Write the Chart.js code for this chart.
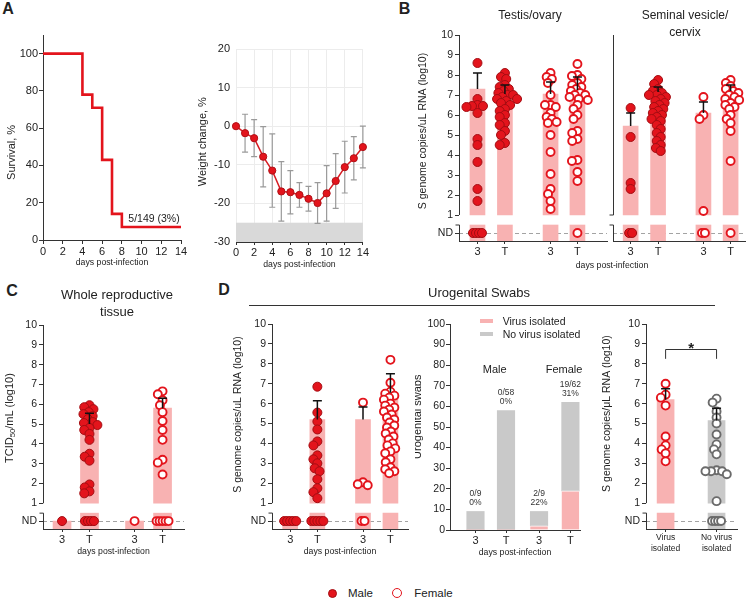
<!DOCTYPE html>
<html>
<head>
<meta charset="utf-8">
<script src="https://cdn.jsdelivr.net/npm/chart.js@4.4.1/dist/chart.umd.min.js"></script>
<style>
  html, body { margin: 0; padding: 0; background: #fff; }
  body { position: relative; width: 750px; height: 599px; overflow: hidden; font-family: 'Liberation Sans', Arial, sans-serif; color: #222; }
  canvas { position: absolute; }
  .lbl { position: absolute; transform: translate(-50%, -50%); white-space: nowrap; line-height: 1; }
  .left { transform: translate(0, -50%); }
  .bold { font-weight: bold; }
</style>
</head>
<body>
<script>
const FONT = "'Liberation Sans', Arial, sans-serif";
Chart.defaults.font.family = FONT;
Chart.defaults.font.size = 10.5;
Chart.defaults.color = '#222';

// ---- A: survival and weight ----
const survDays = [0, 4, 5, 6, 7, 8, 14];
const survPct = [100, 78, 71, 43, 14, 7, 7];
const survTicks = [0, 20, 40, 60, 80, 100];
const weightDays = [0, 1, 2, 3, 4, 5, 6, 7, 8, 9, 10, 11, 12, 13, 14];
const weightMean = [0, -1.8, -3.1, -7.9, -11.5, -16.9, -17.1, -17.8, -18.8, -19.9, -17.4, -14.2, -10.6, -8.3, -5.4];
const weightSd = [0, 4.9, 4.8, 7.8, 9.5, 7.7, 5.6, 3.2, 3.2, 5.3, 7.2, 7.1, 6.7, 5.6, 5.4];

// groups used by B, C and D (day 3 / terminal, male then female)
const dayLabels = ['3', 'T', '3', 'T'];
const sexKinds = ['M', 'M', 'F', 'F'];

// ---- B: testis/ovary ----
const testisVals = [
  [8.6, 6.8, 6.5, 6.45, 6.45, 6.4, 6.1, 4.8, 4.5, 3.65, 2.3, 1.7],
  [8.1, 7.9, 7.8, 7.5, 7.4, 7.3, 7.2, 7.1, 7.0, 7.0, 6.9, 6.8, 6.8, 6.7, 6.6, 6.5, 6.3, 6.2, 6.0, 5.9, 5.6, 5.5, 5.2, 5.0, 4.6, 4.5],
  [8.1, 7.9, 7.8, 7.6, 7.0, 6.5, 6.5, 6.4, 6.1, 5.9, 5.8, 5.65, 5.6, 5.0, 4.15, 3.05, 2.3, 2.05, 1.7, 1.3],
  [8.55, 8.0, 7.95, 7.8, 7.6, 7.5, 7.4, 7.3, 7.2, 7.1, 7.0, 7.0, 6.9, 6.8, 6.75, 6.5, 6.3, 6.0, 5.8, 5.2, 5.1, 4.8, 4.7, 3.75, 3.7, 3.15, 2.7]
];
const testisND = [4, 0, 0, 1];
const testisMean = [7.3, 7.05, 7.05, 7.25];
const testisSem = [0.8, 0.45, 0.6, 0.65];

// ---- B: seminal vesicle/cervix ----
const seminalVals = [
  [6.35, 4.9, 2.6, 2.3],
  [7.75, 7.55, 7.3, 7.2, 7.1, 7.0, 7.0, 6.9, 6.8, 6.7, 6.6, 6.5, 6.4, 6.3, 6.2, 6.1, 6.0, 5.9, 5.8, 5.7, 5.5, 5.3, 5.1, 4.9, 4.7, 4.5, 4.35, 4.2],
  [6.9, 6.0, 5.8, 1.2],
  [7.75, 7.6, 7.45, 7.3, 7.2, 7.1, 7.0, 6.9, 6.8, 6.75, 6.6, 6.5, 6.4, 6.3, 6.0, 5.8, 5.6, 5.2, 3.7]
];
const seminalND = [2, 0, 2, 1];
const seminalMean = [5.45, 7.15, 6.1, 7.2];
const seminalSem = [0.65, 0.25, 0.55, 0.3];

// ---- C: whole reproductive tissue (TCID50) ----
const tissueVals = [
  [],
  [5.95, 5.85, 5.75, 5.6, 5.5, 5.4, 5.25, 5.1, 5.05, 4.95, 4.8, 4.7, 4.5, 4.2, 3.5, 3.35, 3.15, 1.95, 1.8, 1.6, 1.5],
  [],
  [6.65, 6.5, 6.2, 5.95, 5.6, 5.15, 4.7, 4.2, 3.2, 3.05, 2.45]
];
const tissueND = [1, 4, 1, 5];
const tissueMean = [null, 5.0, null, 5.8];
const tissueSem = [0, 0.55, 0, 0.5];

// ---- D: urogenital swab RNA ----
const swabVals = [
  [],
  [6.85, 5.55, 5.1, 4.7, 4.1, 3.9, 3.4, 3.2, 3.0, 2.75, 2.6, 2.2, 1.75, 1.55, 1.25],
  [6.05, 2.05, 1.95, 1.9],
  [8.2, 7.05, 6.6, 6.5, 6.4, 6.3, 6.2, 6.0, 5.9, 5.8, 5.7, 5.6, 5.45, 5.3, 5.2, 5.05, 4.9, 4.8, 4.6, 4.5, 4.35, 4.2, 4.0, 3.9, 3.75, 3.6, 3.5, 3.2, 3.05, 2.8, 2.7, 2.6, 2.5]
];
const swabND = [5, 5, 2, 0];
const swabMean = [null, 5.2, 5.2, 6.55];
const swabSem = [0, 0.95, 0.63, 0.95];

// ---- D: virus isolation counts ----
const isoPositive = [0, 0, 2, 19];
const isoTotal = [9, 58, 9, 62];

// ---- D: RNA by isolation result ----
const isoGroupLabels = [['Virus', 'isolated'], ['No virus', 'isolated']];
const isoRnaVals = [
  [7.0, 6.45, 6.3, 5.9, 4.35, 3.9, 3.7, 3.5, 3.1],
  [6.25, 6.05, 5.6, 5.3, 5.0, 4.45, 3.95, 3.7, 3.45, 2.65, 2.6, 2.6, 2.6, 2.45, 1.1]
];
const isoRnaND = [0, 4];
const isoRnaMean = [6.2, 5.15];
const isoRnaSem = [0.55, 0.62];

// ---- styles / layout ----
const RED = '#e3141c', PINK = '#f8b2b2', GREY_BAR = '#c9c9c9', AXIS = '#333';
const UNIT = 28;                       // px per x unit in the dot-plot panels
const Y_MIN = -0.3, ND = 0.1, BREAK = 0.5;
const groupX4 = [0.65, 1.62, 3.25, 4.23];
const GAP = 5.6, ND_GAP = 3;
const markStyle = {
  M: { pointBackgroundColor: RED, pointBorderColor: '#a30d12', pointBorderWidth: 1, pointRadius: 4.5 },
  F: { pointBackgroundColor: '#fff', pointBorderColor: RED, pointBorderWidth: 1.9, pointRadius: 4 },
  G: { pointBackgroundColor: '#fff', pointBorderColor: '#6b6b6b', pointBorderWidth: 1.9, pointRadius: 4 }
};
const xTitle = { display: true, text: 'days post-infection', font: { size: 8.7 }, padding: { top: 0, bottom: 2 } };

function mkCanvas(id, [x, y, w, h]) {
  const c = document.createElement('canvas');
  c.id = id; c.width = w; c.height = h;
  c.style.left = x + 'px'; c.style.top = y + 'px';
  document.body.appendChild(c);
  return c;
}

function frame(box) {
  const [cx, cy, cw, ch] = box.canvas, [l, t, r, b] = box.plot;
  return { padding: { left: 0, top: t - cy, right: cx + cw - r, bottom: 0 }, yW: l - cx, xH: cy + ch - b, xMax: (r - l) / UNIT };
}

function baseOptions(f) {
  return {
    responsive: false, animation: false, devicePixelRatio: 1, events: [],
    layout: { padding: f.padding, autoPadding: false },
    plugins: { legend: { display: false }, tooltip: { enabled: false } }
  };
}

function txt(s, x, y, size, cls = '', extra = '') {
  const d = document.createElement('div');
  d.className = 'lbl ' + cls;
  d.textContent = s;
  d.style.cssText = `left:${x}px;top:${y}px;font-size:${size}px;${extra}`;
  document.body.appendChild(d);
}

function box(x, y, w, h, css) {
  const d = document.createElement('div');
  d.style.cssText = `position:absolute;left:${x}px;top:${y}px;width:${w}px;height:${h}px;box-sizing:border-box;${css}`;
  document.body.appendChild(d);
}

function drawErr(ctx, xs, ys, e) {
  ctx.strokeStyle = e.color; ctx.lineWidth = e.width;
  e.xs.forEach((xv, i) => {
    const m = e.means[i], s = e.errs[i];
    if (m == null || !s) return;
    const px = xs.getPixelForValue(xv);
    const top = ys.getPixelForValue(m + s);
    const bot = ys.getPixelForValue(e.both ? m - s : m);
    ctx.beginPath();
    ctx.moveTo(px, bot); ctx.lineTo(px, top);
    ctx.moveTo(px - e.cap, top); ctx.lineTo(px + e.cap, top);
    if (e.both) { ctx.moveTo(px - e.cap, bot); ctx.lineTo(px + e.cap, bot); }
    ctx.stroke();
  });
}

function drawYTitle(chart, t) {
  const { ctx, chartArea: a, scales: { y } } = chart;
  const fontFor = p => `${p.sub ? t.size * 0.7 : t.size}px ${FONT}`;
  ctx.save();
  ctx.translate(a.left - t.off, y.getPixelForValue(t.at));
  ctx.rotate(-Math.PI / 2);
  let total = 0;
  t.parts.forEach(p => { ctx.font = fontFor(p); total += ctx.measureText(p.t).width; });
  let xx = -total / 2;
  ctx.fillStyle = '#222'; ctx.textBaseline = 'middle'; ctx.textAlign = 'left';
  t.parts.forEach(p => {
    ctx.font = fontFor(p);
    ctx.fillText(p.t, xx, p.sub ? t.size * 0.3 : 0);
    xx += ctx.measureText(p.t).width;
  });
  ctx.restore();
}

function decor(o) {
  return {
    id: 'decor',
    beforeDatasetsDraw(chart) {
      const { ctx, chartArea: a, scales: { x, y } } = chart;
      ctx.save();
      if (o.band) {
        const top = y.getPixelForValue(o.band[1]), bot = y.getPixelForValue(o.band[0]);
        ctx.fillStyle = '#d9d9d9';
        ctx.fillRect(a.left, top, a.right - a.left, bot - top);
      }
      if (o.ndLine) {
        const yy = Math.round(y.getPixelForValue(ND)) + 0.5;
        ctx.strokeStyle = '#8c8c8c'; ctx.lineWidth = 0.8; ctx.setLineDash([4, 3]);
        ctx.beginPath(); ctx.moveTo(a.left, yy); ctx.lineTo(a.right, yy); ctx.stroke();
        ctx.setLineDash([]);
      }
      if (o.err && o.err.behind) drawErr(ctx, x, y, o.err);
      ctx.restore();
    },
    afterDatasetsDraw(chart) {
      const { ctx, chartArea: a, scales: { x, y } } = chart;
      ctx.save();
      if (o.err && !o.err.behind) drawErr(ctx, x, y, o.err);
      if (o.broken) {
        // y axis split between the 1..10 range and the ND strip
        const X = Math.round(a.left) + 0.5;
        const y10 = y.getPixelForValue(10), y1 = y.getPixelForValue(1), yb = y.getPixelForValue(BREAK);
        ctx.strokeStyle = AXIS; ctx.lineWidth = 1;
        ctx.beginPath();
        ctx.moveTo(X, y10); ctx.lineTo(X, y1);
        if (o.bare) ctx.lineTo(X - 4, y1);
        ctx.moveTo(X - 4, yb); ctx.lineTo(X, yb); ctx.lineTo(X, a.bottom);
        ctx.stroke();
      }
      if (o.counts) {
        const c = o.counts;
        ctx.fillStyle = '#333'; ctx.font = `8.5px ${FONT}`;
        ctx.textAlign = 'center'; ctx.textBaseline = 'middle';
        c.xs.forEach((xv, i) => {
          const px = x.getPixelForValue(xv), top = y.getPixelForValue(c.tot[i]);
          ctx.fillText(`${c.pos[i]}/${c.tot[i]}`, px, top - 17.5);
          ctx.fillText(`${Math.round(100 * c.pos[i] / c.tot[i])}%`, px, top - 8.5);
        });
      }
      if (o.bracket) {
        const b = o.bracket;
        const x0 = x.getPixelForValue(b.from), x1 = x.getPixelForValue(b.to);
        const yl = y.getPixelForValue(b.leg), yt = Math.round(y.getPixelForValue(b.top)) + 0.5;
        ctx.strokeStyle = AXIS; ctx.lineWidth = 1;
        ctx.beginPath();
        ctx.moveTo(x0, yl); ctx.lineTo(x0, yt); ctx.lineTo(x1, yt); ctx.lineTo(x1, yl);
        ctx.stroke();
        ctx.fillStyle = '#222'; ctx.font = `bold 15px ${FONT}`;
        ctx.textAlign = 'center'; ctx.textBaseline = 'alphabetic';
        ctx.fillText('*', (x0 + x1) / 2, yt + 3);
      }
      ctx.restore();
    },
    afterDraw(chart) { if (o.yTitle) drawYTitle(chart, o.yTitle); }
  };
}

// spread each group's dots sideways so they do not pile up
function swarm(chart, cfg) {
  const xs = chart.scales.x, ys = chart.scales.y;
  cfg.vals.forEach((vals, g) => {
    const cx = xs.getPixelForValue(cfg.groupX[g]);
    const placed = [], out = [];
    [...vals].sort((p, q) => q - p).forEach(v => {
      const py = ys.getPixelForValue(v);
      const cands = [0], blocks = [];
      placed.forEach(p => {
        const dy = Math.abs(p.y - py);
        if (dy < GAP) {
          const w = Math.sqrt(GAP * GAP - dy * dy);
          blocks.push([p.x - w, p.x + w]);
          cands.push(p.x - w, p.x + w);
        }
      });
      cands.sort((p, q) => Math.abs(p) - Math.abs(q));
      const off = cands.find(c => blocks.every(([lo, hi]) => c <= lo + 1e-6 || c >= hi - 1e-6));
      placed.push({ x: off, y: py });
      out.push({ x: xs.getValueForPixel(cx + off), y: v });
    });
    const n = cfg.nd[g];
    for (let k = 0; k < n; k++) out.push({ x: xs.getValueForPixel(cx + (k - (n - 1) / 2) * ND_GAP), y: ND });
    chart.data.datasets[2 + g].data = out;
  });
  chart.update('none');
}

function logChart(id, layout, cfg) {
  const f = frame(layout);
  const col = c => cfg.barColors[c.raw ? c.raw.g : 0];
  const upper = cfg.groupX.map((gx, g) => ({ x: gx, y: [1, cfg.means[g]], g })).filter(d => d.y[1] != null);
  const lower = cfg.groupX.map((gx, g) => ({ x: gx, y: [Y_MIN, cfg.means[g] == null ? ND : BREAK], g }));
  const datasets = [
    { type: 'bar', data: upper, backgroundColor: col, barThickness: cfg.barWidth, grouped: false, order: 2 },
    { type: 'bar', data: lower, backgroundColor: col, barThickness: cfg.barWidth, grouped: false, order: 2 },
    ...cfg.vals.map((v, g) => ({ type: 'scatter', data: [], order: 1, ...markStyle[cfg.kinds[g]] }))
  ];
  const yTicks = [ND, 1, 2, 3, 4, 5, 6, 7, 8, 9, 10];
  const chart = new Chart(mkCanvas(id, layout.canvas), {
    type: 'bar',
    data: { datasets },
    options: {
      ...baseOptions(f),
      scales: {
        x: {
          type: 'linear', min: 0, max: f.xMax, offset: false,
          afterBuildTicks: s => { s.ticks = cfg.groupX.map(v => ({ value: v })); },
          ticks: { callback: (v, i) => cfg.labels[i], autoSkip: false, maxRotation: 0, padding: 1, font: { size: cfg.xFont || 11 } },
          grid: { display: true, offset: false, drawOnChartArea: false, tickLength: 3, color: AXIS },
          border: { display: true, color: AXIS },
          title: cfg.xTitle ? xTitle : { display: false },
          afterFit: s => { s.height = f.xH; }
        },
        y: {
          min: Y_MIN, max: 10,
          afterBuildTicks: s => { s.ticks = yTicks.map(v => ({ value: v })); },
          ticks: { display: !cfg.bare, callback: v => (v < BREAK ? 'ND' : v), padding: 2 },
          grid: { display: !cfg.bare, drawOnChartArea: false, tickLength: 4, color: AXIS },
          border: { display: false },
          afterFit: s => { s.width = f.yW; }
        }
      }
    },
    plugins: [decor({
      ndLine: true, broken: true, bare: cfg.bare,
      err: { xs: cfg.groupX, means: cfg.means, errs: cfg.sems, color: '#111', width: 1.5, cap: 4.5 },
      yTitle: cfg.yTitle, bracket: cfg.bracket
    })]
  });
  swarm(chart, cfg);
  return chart;
}

// ---------- A: survival ----------
(function () {
  const layout = { canvas: [0, 25, 195, 245], plot: [43, 35, 181, 240] };
  const f = frame(layout);
  new Chart(mkCanvas('a1', layout.canvas), {
    type: 'line',
    data: { datasets: [{ data: survDays.map((d, i) => ({ x: d, y: survPct[i] })), stepped: true, borderColor: RED, borderWidth: 2.6, pointRadius: 0, fill: false }] },
    options: {
      ...baseOptions(f),
      scales: {
        x: { type: 'linear', min: 0, max: 14, ticks: { stepSize: 2, padding: 1, font: { size: 11 } },
             grid: { drawOnChartArea: false, tickLength: 4, color: AXIS }, border: { color: AXIS },
             title: xTitle, afterFit: s => { s.height = f.xH; } },
        y: { min: 0, max: 110, afterBuildTicks: s => { s.ticks = survTicks.map(v => ({ value: v })); },
             ticks: { padding: 1, font: { size: 11 } },
             grid: { drawOnChartArea: false, tickLength: 4, color: AXIS }, border: { color: AXIS },
             afterFit: s => { s.width = f.yW; } }
      }
    },
    plugins: [decor({ yTitle: { parts: [{ t: 'Survival, %' }], size: 11, off: 31, at: 47 } })]
  });
})();

// ---------- A: weight change ----------
(function () {
  const layout = { canvas: [190, 25, 180, 247], plot: [236, 49, 364, 242] };
  const f = frame(layout);
  new Chart(mkCanvas('a2', layout.canvas), {
    type: 'line',
    data: { datasets: [{
      data: weightDays.map((d, i) => ({ x: d, y: weightMean[i] })),
      borderColor: '#d61d24', borderWidth: 1.5, pointRadius: 3.6,
      pointBackgroundColor: RED, pointBorderColor: '#b01016', pointBorderWidth: 1, clip: false
    }] },
    options: {
      ...baseOptions(f),
      scales: {
        x: { type: 'linear', min: 0, max: 14, ticks: { stepSize: 2, padding: 1, font: { size: 11 } },
             grid: { color: '#ececec', tickLength: 3, tickColor: AXIS }, border: { color: AXIS },
             title: xTitle, afterFit: s => { s.height = f.xH; } },
        y: { min: -30, max: 20, ticks: { stepSize: 10, padding: 6, font: { size: 11 } },
             grid: { color: '#ececec', drawTicks: false }, border: { display: false },
             afterFit: s => { s.width = f.yW; } }
      }
    },
    plugins: [decor({
      band: [-30, -25],
      err: { xs: weightDays, means: weightMean, errs: weightSd, both: true, behind: true, color: '#9a9a9a', width: 1.2, cap: 3 },
      yTitle: { parts: [{ t: 'Weight change, %' }], size: 11, off: 33, at: -4 }
    })]
  });
})();

// ---------- B ----------
logChart('b1', { canvas: [390, 25, 220, 246], plot: [459, 35, 607, 241] }, {
  groupX: [0.66, 1.64, 3.27, 4.23], labels: dayLabels, kinds: sexKinds,
  vals: testisVals, nd: testisND, means: testisMean, sems: testisSem,
  barColors: [PINK, PINK, PINK, PINK], barWidth: 15,
  yTitle: { parts: [{ t: 'S genome copies/uL RNA (log10)' }], size: 10.5, off: 36, at: 5.2 }
});
logChart('b2', { canvas: [608, 25, 142, 246], plot: [613, 35, 745, 241] }, {
  groupX: [0.63, 1.61, 3.23, 4.2], labels: dayLabels, kinds: sexKinds, bare: true,
  vals: seminalVals, nd: seminalND, means: seminalMean, sems: seminalSem,
  barColors: [PINK, PINK, PINK, PINK], barWidth: 15
});

// ---------- C ----------
logChart('c1', { canvas: [0, 315, 195, 244], plot: [43, 325, 184, 529] }, {
  groupX: [0.68, 1.66, 3.27, 4.27], labels: dayLabels, kinds: sexKinds, xTitle: true,
  vals: tissueVals, nd: tissueND, means: tissueMean, sems: tissueSem,
  barColors: [PINK, PINK, PINK, PINK], barWidth: 18,
  yTitle: { parts: [{ t: 'TCID' }, { t: '50', sub: true }, { t: '/mL (log10)' }], size: 11, off: 33.5, at: 5.3 }
});

// ---------- D: swab RNA ----------
logChart('d1', { canvas: [200, 315, 215, 244], plot: [272, 324, 408, 529] }, {
  groupX: groupX4, labels: dayLabels, kinds: sexKinds, xTitle: true,
  vals: swabVals, nd: swabND, means: swabMean, sems: swabSem,
  barColors: [PINK, PINK, PINK, PINK], barWidth: 15,
  yTitle: { parts: [{ t: 'S genome copies/uL RNA (log10)' }], size: 10.5, off: 34, at: 5.45 }
});

// ---------- D: isolation counts ----------
(function () {
  const layout = { canvas: [415, 315, 170, 245], plot: [450, 324, 580, 530] };
  const f = frame(layout);
  const gx = [0.91, 2.0, 3.18, 4.3];
  new Chart(mkCanvas('d2', layout.canvas), {
    type: 'bar',
    data: { datasets: [
      { data: gx.map((x, i) => ({ x, y: [0, isoPositive[i]] })), backgroundColor: PINK, borderColor: '#fff',
        borderWidth: { top: 1 }, borderSkipped: 'start', barThickness: 17.5, grouped: false },
      { data: gx.map((x, i) => ({ x, y: [isoPositive[i], isoTotal[i]] })), backgroundColor: GREY_BAR,
        barThickness: 17.5, grouped: false }
    ] },
    options: {
      ...baseOptions(f),
      scales: {
        x: { type: 'linear', min: 0, max: f.xMax, offset: false,
             afterBuildTicks: s => { s.ticks = gx.map(v => ({ value: v })); },
             ticks: { callback: (v, i) => dayLabels[i], autoSkip: false, maxRotation: 0, padding: 1, font: { size: 11 } },
             grid: { offset: false, drawOnChartArea: false, tickLength: 3, color: AXIS }, border: { color: AXIS },
             title: xTitle, afterFit: s => { s.height = f.xH; } },
        y: { min: 0, max: 100, ticks: { stepSize: 10, padding: 1 },
             grid: { drawOnChartArea: false, tickLength: 4, color: AXIS }, border: { color: AXIS },
             afterFit: s => { s.width = f.yW; } }
      }
    },
    plugins: [decor({
      counts: { xs: gx, pos: isoPositive, tot: isoTotal },
      yTitle: { parts: [{ t: 'Urogenital swabs' }], size: 11, off: 32, at: 55 }
    })]
  });
})();

// ---------- D: RNA by isolation ----------
logChart('d3', { canvas: [590, 315, 155, 244], plot: [646, 324, 737, 529] }, {
  groupX: [0.7, 2.52], labels: isoGroupLabels, kinds: ['F', 'G'], xFont: 8.5,
  vals: isoRnaVals, nd: isoRnaND, means: isoRnaMean, sems: isoRnaSem,
  barColors: [PINK, GREY_BAR], barWidth: 17,
  bracket: { from: 0.7, to: 2.52, leg: 8.25, top: 8.75 },
  yTitle: { parts: [{ t: 'S genome copies/\u03bcL RNA (log10)' }], size: 10.5, off: 38.5, at: 5.5 }
});

// ---------- text outside the plots ----------
txt('A', 8, 9, 16, 'bold');
txt('B', 404.5, 9, 16, 'bold');
txt('C', 12, 291, 16, 'bold');
txt('D', 224, 290, 16, 'bold');

txt('5/149 (3%)', 154, 218, 10.5);
txt('Testis/ovary', 530, 15, 12);
txt('Seminal vesicle/', 685, 15, 12);
txt('cervix', 685, 31.5, 12);
txt('days post-infection', 612, 265, 8.7);

txt('Whole reproductive', 117, 294, 13);
txt('tissue', 117, 311, 13);

txt('Urogenital Swabs', 479, 291.5, 13);
box(249, 305, 466, 1, 'background:#333');

box(480, 319, 13, 4, `background:${PINK}`);
txt('Virus isolated', 502.7, 321, 10.5, 'left');
box(480, 332, 13, 4, `background:${GREY_BAR}`);
txt('No virus isolated', 502.7, 334, 10.5, 'left');
txt('Male', 494.7, 369, 11);
txt('Female', 564, 369, 11);

box(327.8, 588.8, 9, 9, `border-radius:50%;background:${RED};border:1px solid #a30d12`);
txt('Male', 348, 593.5, 11.5, 'left');
box(392.3, 588.3, 10, 10, `border-radius:50%;background:#fff;border:1.8px solid ${RED}`);
txt('Female', 414.3, 593.5, 11.5, 'left');
</script>
</body>
</html>
